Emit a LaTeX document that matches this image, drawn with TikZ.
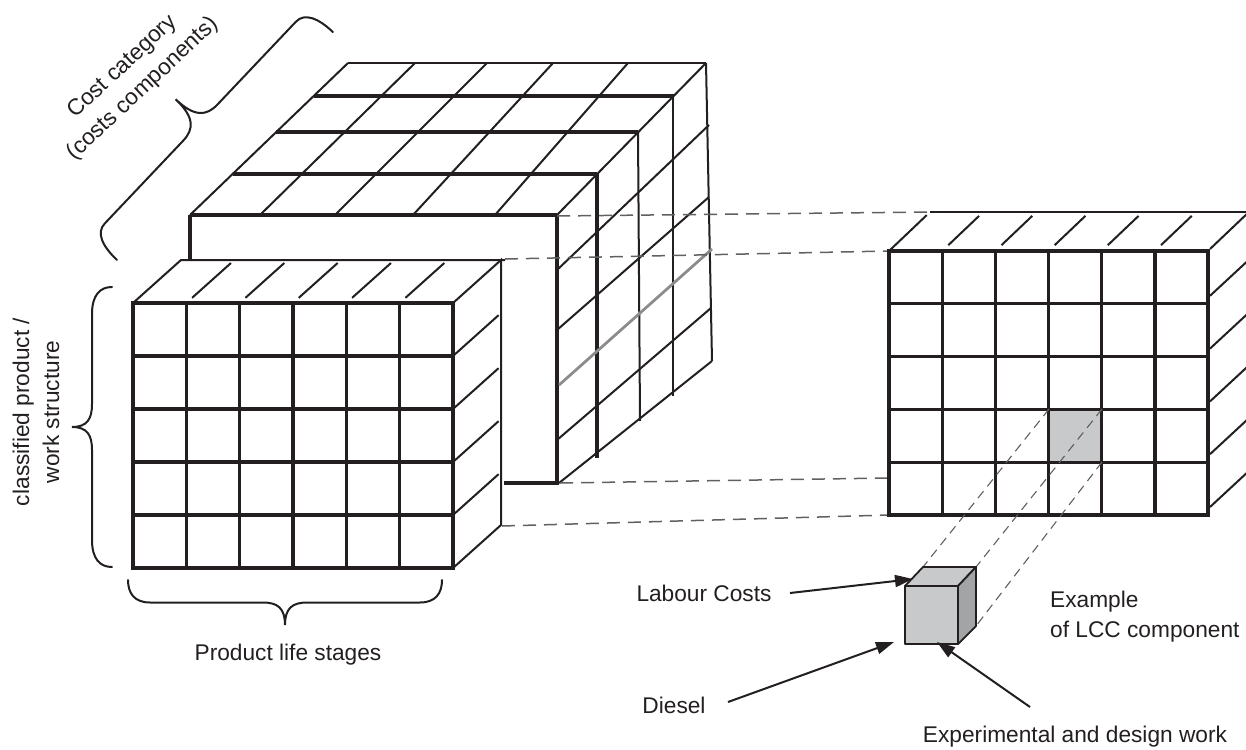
\documentclass[tikz,border=0pt]{standalone}
\usepackage{fontspec}
\setmainfont{Liberation Sans}
\usetikzlibrary{arrows.meta}

\definecolor{ink}{HTML}{231F20}
\definecolor{cellgray}{HTML}{C8C9CB}
\definecolor{sidegray}{HTML}{A3A4A6}
\definecolor{dashgray}{HTML}{606060}
\definecolor{slicegray}{HTML}{8C8C8C}

\tikzset{
  gridthick/.style={line width=3.3pt, draw=ink},
  gridthin/.style={line width=2pt, draw=ink},
  linkdash/.style={line width=1.5pt, draw=dashgray, dash pattern=on 13pt off 8pt},
  celldash/.style={line width=1.1pt, draw=dashgray, dash pattern=on 9pt off 6pt},
  bracestroke/.style={line width=2pt, draw=ink, line cap=round},
  pointer/.style={line width=2pt, draw=ink, -{Triangle[length=18pt,width=12pt]}},
  txt/.style={font=\fontsize{22.7}{30}\selectfont, text=ink, inner sep=0pt},
  cubeface/.style={draw=ink, line width=1.8pt, line join=round},
}

% curly brace in local coordinates: length, amplitude, hook length, tip length
\newcommand\curlybrace[4]{%
  \draw[bracestroke] (0,0) .. controls (0,{0.3*#2}) and ({0.3*#3},{0.5*#2}) .. (#3,{0.5*#2})
    -- ({0.5*#1-#4},{0.5*#2}) .. controls ({0.5*#1-0.35*#4},{0.5*#2}) and ({0.5*#1},{0.62*#2}) .. ({0.5*#1},#2)
    .. controls ({0.5*#1},{0.62*#2}) and ({0.5*#1+0.35*#4},{0.5*#2}) .. ({0.5*#1+#4},{0.5*#2})
    -- ({#1-#3},{0.5*#2}) .. controls ({#1-0.3*#3},{0.5*#2}) and (#1,{0.3*#2}) .. (#1,0);}

\begin{document}
\begin{tikzpicture}[x=1pt,y=-1pt]
\useasboundingbox (0,0) rectangle (1246,749);
\clip (0,0) rectangle (1246,749);

% ---------- full cost cube (back block) ----------
% top face: depth rows (thick) and column lines (thin)
\foreach \yy in {215,174,132,96} {
  \draw[gridthick] ({190+(215-\yy)/152*158},\yy) -- ({557+(215-\yy)/152*149},\yy);
}
\draw[gridthin] (348,63) -- (706,63);
\foreach \a/\b in {190/348, 260/415, 335/487, 413/553, 495/628, 557/706}
  \draw[gridthin] (\a,215) -- (\b,63);
% visible strip of the front wall
\draw[gridthick] (190,260) -- (190,215);
\draw[gridthick] (557,215) -- (557,483) -- (504,483);
% right face: depth columns
\draw[gridthick] (597,174) -- (597,458);
\draw[gridthin] (638,132) -- (640,421);
\draw[gridthin] (673,96) -- (673,396);
\draw[gridthin] (706,63) -- (712,361);
% right face: structure rows
\draw[gridthin] (557,270) -- (709,125);
\draw[gridthin] (557,330) -- (709,197);
\draw[line width=2.8pt, draw=slicegray] (559,385) -- (712,249);
\draw[gridthin] (557,440) -- (711,308);
\draw[gridthin] (559,483) -- (712,361);

% ---------- front slice ----------
\draw[gridthick] (133,303) rectangle (453,568);
\foreach \i in {1,...,5}
  \draw[gridthick] ({133+53.333*\i},303) -- ({133+53.333*\i},568);
\foreach \j in {1,...,4}
  \draw[gridthick] (133,{303+53*\j}) -- (453,{303+53*\j});
% top face
\draw[gridthin] (133,303) -- (181,260) -- (505,260);
\draw[gridthin] (453,303) -- (501,260) -- (501,525) -- (453,568);
\foreach \i in {1,...,5}
  \draw[gridthin] ({133+53.333*\i+0.12*48},{303-0.12*43}) -- ({133+53.333*\i+0.93*48},{303-0.93*43});
% right face
\foreach \j in {1,...,4}
  \draw[gridthin] ({453+0.03*48},{303+53*\j-0.03*43}) -- ({453+0.95*48},{303+53*\j-0.95*43});

% ---------- projection lines ----------
\draw[linkdash] (557,216) -- (930,212);
\draw[linkdash] (505,259) -- (889,251);
\draw[linkdash] (560,483) -- (889,478);
\draw[linkdash] (502,526) -- (889,515);

% ---------- extracted slice ----------
\fill[cellgray] (1048.5,409.4) rectangle (1101.7,462.2);
\draw[gridthick] (889,251) rectangle (1208,515);
\foreach \i in {1,...,5}
  \draw[gridthick] ({889+53.167*\i},251) -- ({889+53.167*\i},515);
\foreach \j in {1,...,4}
  \draw[gridthick] (889,{251+52.8*\j}) -- (1208,{251+52.8*\j});
\draw[gridthin] (930,212) -- (1252,212);
\draw[gridthin] (889,251) -- ({889+0.92*41},{251-0.92*39});
\draw[gridthin] (1210,249) -- (1251,210);
\foreach \i in {1,...,5}
  \draw[gridthin] ({889+53.167*\i+0.15*41},{251-0.15*39}) -- ({889+53.167*\i+0.9*41},{251-0.9*39});
\foreach \j in {1,...,5}
  \draw[gridthin] (1210,{251+52.8*\j-8}) -- ++(41,-38);

% ---------- single cost element ----------
\draw[celldash] (1049,409) -- (923,567);
\draw[celldash] (1102,409) -- (976,567);
\draw[celldash] (1102,462) -- (976,626);
\filldraw[cubeface, fill=cellgray] (905,586) -- (923,567) -- (976,567) -- (958,586) -- cycle;
\filldraw[cubeface, fill=sidegray] (958,586) -- (976,567) -- (976,626) -- (958,644) -- cycle;
\filldraw[cubeface, fill=cellgray] (905,586) rectangle (958,644);

% ---------- braces ----------
\begin{scope}[shift={(112,567)}, rotate=90, x=1pt, y=1pt]
  \curlybrace{280}{40}{27}{23}
\end{scope}
\begin{scope}[shift={(442,580)}, rotate=180, x=1pt, y=1pt]
  \curlybrace{314}{45}{22}{22}
\end{scope}
\begin{scope}[shift={(117,260)}, rotate=46.55, x=1pt, y=1pt]
  \curlybrace{314}{68}{18}{25}
\end{scope}

% ---------- labels ----------
\node[txt, rotate=90, align=center] (structure) at (36,412) {classified product /\\work structure};
\node[txt, rotate=43, align=center] (category) at (133,78) {Cost category\\(costs components)};
\node[txt] (stages) at (288,655) {Product life stages};
\node[txt] (labour) at (704,593) {Labour Costs};
\node[txt] (diesel) at (674,705) {Diesel};
\node[txt] (design) at (1075,737) {Experimental and design work};
\node[txt, align=left, anchor=west] (example) at (1050,617) {Example\\of LCC component};

% ---------- pointers ----------
\coordinate (labourfrom) at (790,593);
\coordinate (labourtip) at (913,579);
\coordinate (dieselfrom) at (728,702);
\coordinate (dieseltip) at (894,642);
\coordinate (designfrom) at (1030,707);
\coordinate (designtip) at (937,642);
\draw[pointer] (labourfrom) -- (labourtip);
\draw[pointer] (dieselfrom) -- (dieseltip);
\draw[pointer] (designfrom) -- (designtip);
\end{tikzpicture}
\end{document}
